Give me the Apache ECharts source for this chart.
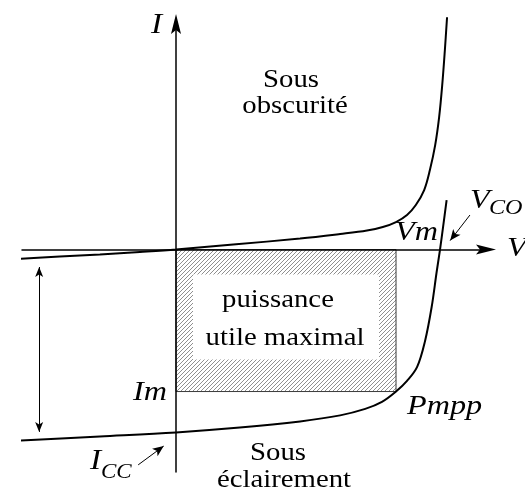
<!DOCTYPE html>
<html>
<head>
<meta charset="utf-8">
<script src="https://cdn.jsdelivr.net/npm/echarts@6/dist/echarts.min.js"></script>
<style>
  html, body { margin: 0; padding: 0; background: #fff; }
  #chart { width: 525px; height: 489px; }
</style>
</head>
<body>
<div id="chart"></div>
<script>
// I–V characteristic of a photovoltaic cell (V in volts, I in amperes)
const darkCurve = [
  [-0.366, -0.156], [-0.264, -0.115], [-0.173, -0.082], [-0.082, -0.041], [0, 0],
  [0.130, 0.082], [0.282, 0.180], [0.373, 0.254], [0.434, 0.311], [0.470, 0.369],
  [0.500, 0.451], [0.525, 0.566], [0.545, 0.730], [0.564, 0.975], [0.577, 1.303],
  [0.589, 1.713], [0.598, 2.172], [0.605, 2.697], [0.611, 3.270], [0.616, 3.811]
];
const lightCurve = [
  [-0.370, -3.139], [-0.173, -3.066], [0, -3.000], [0.145, -2.921], [0.282, -2.820],
  [0.373, -2.721], [0.430, -2.615], [0.468, -2.500], [0.500, -2.330], [0.525, -2.156],
  [0.548, -1.926], [0.566, -1.500], [0.581, -0.943], [0.592, -0.385], [0.600, 0],
  [0.6075, 0.402], [0.615, 0.811]
];
const maxPowerPoint = [0.500, -2.330];   // (Vm, Im)
const iscArrow = [[-0.311, -0.287], [-0.311, -2.992]];
const iccPointer = [[-0.086, -3.533], [-0.028, -3.225]];
const vcoPointer = [[0.668, 0.566], [0.623, 0.146]];

const SERIF = "'Liberation Serif', 'Times New Roman', serif";

function hatchPattern() {
  const c = document.createElement('canvas');
  c.width = 4; c.height = 4;
  const g = c.getContext('2d');
  g.fillStyle = '#fff';
  g.fillRect(0, 0, 4, 4);
  g.strokeStyle = '#8f8f8f';
  g.lineWidth = 1;
  g.beginPath();
  g.moveTo(0, 4); g.lineTo(4, 0);
  g.moveTo(-1, 1); g.lineTo(1, -1);
  g.moveTo(3, 5); g.lineTo(5, 3);
  g.stroke();
  return c;
}
const hatch = { image: hatchPattern(), repeat: 'repeat' };

// text label helper: x, alphabetic baseline y
function txt(str, x, baseline, size, opts) {
  opts = opts || {};
  return {
    type: 'text',
    x: x,
    y: baseline - 0.28 * size,
    scaleX: 1.15,
    z: 10,
    style: {
      text: str,
      font: (opts.italic ? 'italic ' : '') + size + 'px ' + SERIF,
      fill: '#000',
      align: opts.align || 'left',
      verticalAlign: 'middle'
    }
  };
}

const chart = echarts.init(document.getElementById('chart'), null, { renderer: 'canvas' });

const arrowPath = 'path://M5,0 L10,20 L5,16 L0,20 Z';

const axisCommon = {
  type: 'value',
  z: 5,
  splitLine: { show: false },
  axisTick: { show: false },
  axisLabel: { show: false },
  axisLine: {
    show: true,
    onZero: true,
    symbol: ['none', arrowPath],
    symbolSize: [12, 20],
    lineStyle: { color: '#000', width: 1.5 }
  }
};

chart.setOption({
  animation: false,
  backgroundColor: '#fff',
  grid: { left: 22, right: 39, top: 24, bottom: 17 },
  xAxis: Object.assign({}, axisCommon, { min: -0.35, max: 0.7045 }),
  yAxis: Object.assign({}, axisCommon, { min: -3.65, max: 3.70 }),
  series: [
    {
      type: 'custom',
      z: 1,
      data: [maxPowerPoint],
      renderItem: function (params, api) {
        const p0 = api.coord([0, 0]);
        const p1 = api.coord([api.value(0), api.value(1)]);
        const x = p0[0], y = p0[1];
        const w = p1[0] - p0[0], h = p1[1] - p0[1];
        return {
          type: 'group',
          children: [
            { type: 'rect', shape: { x: x, y: y, width: w, height: h },
              style: { fill: hatch, stroke: '#3a3a3a', lineWidth: 1 } },
            { type: 'rect', shape: { x: x + 17, y: y + 25, width: w - 34, height: h - 57 },
              style: { fill: '#fff' } }
          ]
        };
      }
    },
    {
      name: 'Sous obscurité',
      type: 'line',
      data: darkCurve,
      smooth: 0.35,
      showSymbol: false,
      clip: false,
      z: 3,
      lineStyle: { color: '#000', width: 2 }
    },
    {
      name: 'Sous éclairement',
      type: 'line',
      data: lightCurve,
      smooth: 0.35,
      showSymbol: false,
      clip: false,
      z: 3,
      lineStyle: { color: '#000', width: 2 },
      markLine: {
        silent: true,
        animation: false,
        label: { show: false },
        lineStyle: { color: '#000', width: 1, type: 'solid' },
        data: [
          [{ coord: iscArrow[0], symbol: 'arrow', symbolSize: [6, 10] },
           { coord: iscArrow[1], symbol: 'arrow', symbolSize: [6, 10] }],
          [{ coord: iccPointer[0], symbol: 'none' },
           { coord: iccPointer[1], symbol: 'arrow', symbolSize: [7, 11] }],
          [{ coord: vcoPointer[0], symbol: 'none' },
           { coord: vcoPointer[1], symbol: 'arrow', symbolSize: [7, 11] }]
        ]
      }
    }
  ],
  graphic: [
    txt('I', 151, 33, 29, { italic: true }),
    txt('Sous', 291, 87, 25, { align: 'center' }),
    txt('obscurité', 295, 113, 25, { align: 'center' }),
    txt('Vm', 395, 240, 28, { italic: true }),
    txt('V', 470, 208, 28, { italic: true }),
    txt('CO', 489, 214, 21, { italic: true }),
    txt('V', 507, 256, 28, { italic: true }),
    txt('puissance', 278, 307, 25, { align: 'center' }),
    txt('utile maximal', 285, 345, 25, { align: 'center' }),
    txt('Im', 133, 400, 28, { italic: true }),
    txt('Pmpp', 407, 414, 28, { italic: true }),
    txt('I', 90, 469, 29, { italic: true }),
    txt('CC', 101, 478, 20, { italic: true }),
    txt('Sous', 278, 460, 25, { align: 'center' }),
    txt('éclairement', 284, 487, 25, { align: 'center' })
  ]
});
</script>
</body>
</html>
